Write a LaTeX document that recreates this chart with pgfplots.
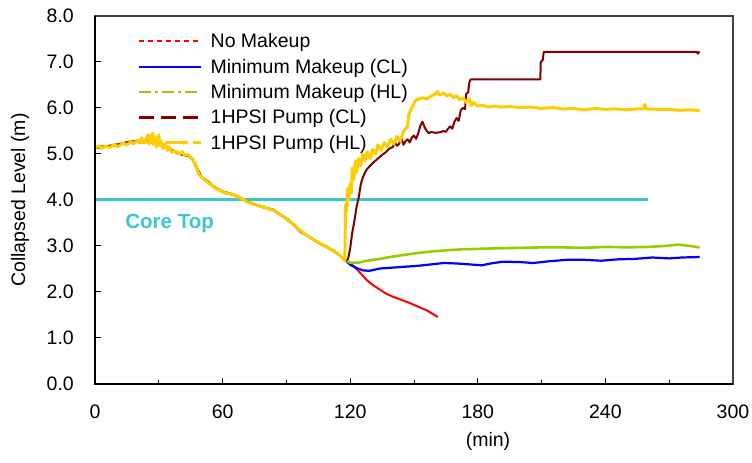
\documentclass[border=0pt]{standalone}
\usepackage{fontspec}
\setmainfont{Liberation Sans}
\usepackage{pgfplots}
\pgfplotsset{compat=1.18}
\definecolor{cRed}{HTML}{FF0000}
\definecolor{cBlue}{HTML}{0000FF}
\definecolor{cGreen}{HTML}{99CC00}
\definecolor{cDRed}{HTML}{800000}
\definecolor{cGold}{HTML}{FFCC00}
\definecolor{cCyan}{HTML}{3CC8C8}
\begin{document}
\begin{tikzpicture}[font=\fontsize{19.5}{23}\selectfont]
\begin{axis}[
  scale only axis, width=638pt, height=368pt,
  xmin=0, xmax=300, ymin=0, ymax=8,
  xtick={0,60,...,300}, minor xtick={30,90,...,270},
  ytick={0,1,...,8},
  tick pos=left, tick align=inside,
  major tick length=6pt, minor tick length=4pt,
  every tick/.style={black, line width=1pt},
  /pgf/number format/assume math mode=true,
  y tick label style={/pgf/number format/fixed, /pgf/number format/fixed zerofill, /pgf/number format/precision=1, /tikz/inner sep=0pt, /tikz/xshift=-21pt},
  x tick label style={/tikz/inner sep=0pt, /tikz/yshift=-21pt},
  axis line style={line width=1.2pt, draw=black!75},
  ylabel={Collapsed Level (m)},
  ylabel style={at={(axis description cs:-0.1176,0.5)}, anchor=center},
  xlabel={(min)},
  xlabel style={at={(axis description cs:0.616,0)}, anchor=center, yshift=-57pt},
  every axis plot/.append style={line join=round, line cap=round},
  legend cell align=left,
  legend style={draw=none, fill=none, at={(axis cs:20.3,7.61)}, anchor=north west,
    inner sep=0pt, outer sep=0pt, row sep=6.3pt, column sep=8pt,
    nodes={inner sep=0pt, text height=14pt, text depth=5pt}},
  legend image code/.code={\draw[#1, line cap=butt] (0pt,2pt) -- (62pt,2pt);},
]
% Core top
\addplot[cCyan, line width=3pt, line cap=butt, forget plot] coordinates {(0,4) (260,4)};
% No Makeup
\addplot[cRed, line width=2pt, forget plot] coordinates {
(0,5.13) (4,5.16) (8,5.18) (12,5.22) (16,5.26) (20,5.28) (24,5.30) (28,5.28) (32,5.20) (36,5.08) (40,5.00) (44,4.96) (46,4.88) (48,4.68) (50,4.50) (53,4.40) (56,4.28) (60,4.18) (64,4.13) (67,4.08) (70,4.00) (74,3.92) (78,3.86) (84,3.78) (88,3.66) (91,3.56) (94,3.44) (97,3.30) (100,3.22) (103,3.13) (106,3.05) (109,2.98) (112,2.90) (115,2.80) (118,2.68)
(120,2.62) (122,2.55) (124,2.45) (126,2.35) (128,2.25) (131,2.14) (134,2.05) (137,1.96) (140,1.90) (144,1.83) (148,1.76) (152,1.68) (156,1.60) (159,1.52) (161,1.46)};
% Minimum Makeup (CL)
\addplot[cBlue, line width=2.2pt, forget plot] coordinates {
(0,5.13) (4,5.16) (8,5.18) (12,5.22) (16,5.26) (20,5.28) (24,5.30) (28,5.28) (32,5.20) (36,5.08) (40,5.00) (44,4.96) (46,4.88) (48,4.68) (50,4.50) (53,4.40) (56,4.28) (60,4.18) (64,4.13) (67,4.08) (70,4.00) (74,3.92) (78,3.86) (84,3.78) (88,3.66) (91,3.56) (94,3.44) (97,3.30) (100,3.22) (103,3.13) (106,3.05) (109,2.98) (112,2.90) (115,2.80) (118,2.68)
(120,2.59) (123,2.52) (126,2.47) (129,2.46) (134,2.51) (140,2.53) (146,2.55) (152,2.57) (158,2.60) (164,2.63) (170,2.62) (176,2.60) (182,2.58) (186,2.62) (192,2.66) (200,2.65) (206,2.63) (214,2.67) (222,2.70) (230,2.70) (238,2.68) (246,2.71) (254,2.72) (262,2.75) (270,2.73) (276,2.75) (284,2.76)};
% Minimum Makeup (HL)
\addplot[cGreen, line width=2.6pt, forget plot] coordinates {
(0,5.13) (4,5.16) (8,5.18) (12,5.22) (16,5.26) (20,5.28) (24,5.30) (28,5.28) (32,5.20) (36,5.08) (40,5.00) (44,4.96) (46,4.88) (48,4.68) (50,4.50) (53,4.40) (56,4.28) (60,4.18) (64,4.13) (67,4.08) (70,4.00) (74,3.92) (78,3.86) (84,3.78) (88,3.66) (91,3.56) (94,3.44) (97,3.30) (100,3.22) (103,3.13) (106,3.05) (109,2.98) (112,2.90) (115,2.80) (118,2.68)
(120,2.64) (124,2.64) (128,2.68) (134,2.72) (140,2.77) (146,2.81) (152,2.85) (158,2.88) (166,2.91) (174,2.93) (182,2.94) (190,2.95) (200,2.96) (210,2.97) (220,2.97) (230,2.96) (240,2.98) (250,2.97) (260,2.98) (268,3.00) (274,3.03) (280,3.00) (284,2.97)};
% 1HPSI Pump (CL)
\addplot[cDRed, line width=2pt, forget plot] coordinates {
(0,5.13) (4,5.16) (8,5.18) (12,5.22) (16,5.26) (20,5.28) (24,5.30) (28,5.28) (32,5.20) (36,5.08) (40,5.00) (44,4.96) (46,4.88) (48,4.68) (50,4.50) (53,4.40) (56,4.28) (60,4.18) (64,4.13) (67,4.08) (70,4.00) (74,3.92) (78,3.86) (84,3.78) (88,3.66) (91,3.56) (94,3.44) (97,3.30) (100,3.22) (103,3.13) (106,3.05) (109,2.98) (112,2.90) (115,2.80) (118,2.68)
(119,2.72) (120,2.95) (121,3.3) (122,3.55) (123,3.85) (124,4.05) (125,4.35) (126,4.5) (127,4.6) (128,4.68) (129.5,4.75) (131,4.82) (133,4.9) (135,4.98) (137,5.05) (138.5,5.12) (140,5.15) (141,5.25) (142,5.18) (143,5.22) (144,5.35) (145,5.2) (146,5.28) (147,5.32) (148,5.25) (149,5.36) (150,5.40) (151,5.33) (152,5.45) (153,5.62) (154,5.70) (155,5.58) (156,5.50) (157,5.45) (158,5.48) (160,5.46) (162,5.47) (164,5.50) (165,5.48) (166,5.55) (167,5.60) (168,5.55) (169,5.70) (170,5.78) (171,5.72) (172,5.95) (173,6.0) (174,5.98) (174.5,6.3) (175.5,6.35) (176,6.55) (176.6,6.62) (209.4,6.62) (209.6,7.0) (210.6,7.05) (211,7.22) (283,7.22) (283.5,7.18) (284,7.22)};
% 1HPSI Pump (HL)
\addplot[cGold, line width=3pt, forget plot] coordinates {
(0,5.13) (2,5.18) (3,5.12) (5,5.17) (7,5.14) (9,5.20) (11,5.16) (13,5.24) (15,5.20) (17,5.27) (18,5.22) (20,5.30) (21,5.24) (22,5.35) (23,5.26) (24,5.33) (25,5.42) (25.5,5.22) (26,5.30) (27,5.45) (27.5,5.20) (28,5.38) (29,5.15) (30,5.42) (30.5,5.18) (31,5.28) (32,5.12) (33,5.22) (34,5.08) (35,5.15) (36,5.04) (38,5.06) (40,5.00) (41,5.05) (42,4.98) (44,4.98) (45,4.92) (46,4.88) (47,4.78) (48,4.66) (49,4.55) (50,4.50) (52,4.42) (53,4.38) (55,4.32) (56,4.27) (58,4.22) (60,4.18) (62,4.14) (64,4.13) (66,4.10) (68,4.05) (70,4.00) (72,3.95) (74,3.92) (76,3.89) (78,3.86) (80,3.84) (82,3.80) (84,3.77) (86,3.72) (88,3.66) (90,3.58) (92,3.52) (94,3.44) (96,3.36) (98,3.28) (100,3.22) (102,3.16) (104,3.10) (106,3.05) (108,3.01) (110,2.96) (112,2.90) (114,2.84) (116,2.76) (117.5,2.68)
(117.8,3.9) (118.3,3.75) (118.8,4.25) (119.3,4.0) (120,4.35) (120.5,4.15) (121,4.7) (121.7,4.45) (122.5,4.85) (123,4.6) (124,4.9) (125,4.75) (126,5.0) (127,4.85) (128,5.05) (129.5,4.9) (130.5,5.1) (132,5.0) (133,5.2) (134.5,5.08) (136,5.25) (137.5,5.15) (139,5.32) (140.5,5.22) (142,5.38) (143.5,5.28) (145,5.48) (146,5.55) (147,5.6) (147.5,5.85) (148.6,5.97) (149.5,6.05) (150.5,6.15) (152,6.19) (154,6.22) (156,6.20) (158,6.26) (160,6.30) (161,6.36) (162,6.28) (164,6.32) (165.5,6.26) (167,6.30) (168.5,6.22) (170,6.27) (171.5,6.18) (173,6.22) (174.5,6.12) (176,6.20) (177,6.05) (178,6.12) (180,6.04) (182,6.06) (185,6.02) (188,6.04) (191,6.02) (195,6.03) (200,6.01) (205,6.02) (210,5.99) (215,6.01) (220,5.98) (225,5.99) (230,5.96) (235,5.99) (240,5.97) (245,5.98) (250,5.96) (255,5.98) (258,5.98) (258.5,6.08) (259,5.98) (265,5.97) (270,5.97) (275,5.95) (280,5.96) (284,5.94)};
% legend
\addlegendimage{color=cRed, line width=2pt, dash pattern=on 4.5pt off 4.5pt}
\addlegendentry{No Makeup}
\addlegendimage{color=cBlue, line width=1.6pt}
\addlegendentry{Minimum Makeup (CL)}
\addlegendimage{color=cGreen, line width=2.5pt, dash pattern=on 12pt off 4pt on 3pt off 4pt}
\addlegendentry{Minimum Makeup (HL)}
\addlegendimage{color=cDRed, line width=2.5pt, dash pattern=on 15pt off 7pt}
\addlegendentry{1HPSI Pump (CL)}
\addlegendimage{color=cGold, line width=2.5pt, dash pattern=on 22pt off 5pt}
\addlegendentry{1HPSI Pump (HL)}
\node[anchor=base west, text=cCyan, font=\fontsize{20.5}{24}\selectfont\bfseries, inner sep=0pt] at (axis cs:14.2,3.37) {Core Top};
\coordinate (bl) at (rel axis cs:0,0);
\coordinate (tl) at (rel axis cs:0,1);
\coordinate (br) at (rel axis cs:1,0);
\coordinate (tr) at (rel axis cs:1,1);
\end{axis}
\draw[line width=2pt, black] (tl) -- (bl) -- (br);
\pgfresetboundingbox
\path ([shift={(-95pt,-79pt)}]bl) rectangle ([shift={(19pt,16pt)}]tr);
\end{tikzpicture}
\end{document}
